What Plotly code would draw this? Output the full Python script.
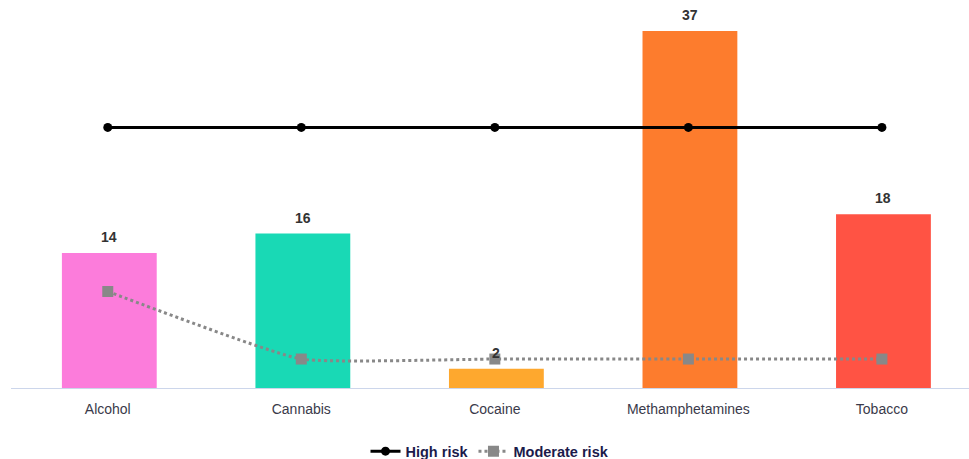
import plotly.graph_objects as go

categories = ["Alcohol", "Cannabis", "Cocaine", "Methamphetamines", "Tobacco"]
bar_values = [14, 16, 2, 37, 18]
bar_colors = ["#FC7CDB", "#19D9B5", "#FEA82E", "#FD7C2D", "#FF5344"]
high_risk = [27, 27, 27, 27, 27]
moderate_risk = [10, 3, 3, 3, 3]

font_family = "Liberation Sans, Arial, sans-serif"

fig = go.Figure()
fig.add_trace(go.Bar(
    x=categories, y=bar_values,
    marker=dict(color=bar_colors, line=dict(width=0)),
    width=0.49, offset=-0.237,
    showlegend=False, hoverinfo="skip",
))
fig.add_trace(go.Scatter(
    x=categories, y=high_risk, name="High risk", mode="lines+markers",
    line=dict(color="#000000", width=3),
    marker=dict(symbol="circle", size=9, color="#000000"),
))
fig.add_trace(go.Scatter(
    x=categories, y=moderate_risk, name="Moderate risk", mode="lines+markers",
    line=dict(color="#888888", width=3, dash="dot", shape="spline", smoothing=0.4),
    marker=dict(symbol="square", size=11, color="#888888"),
))

annotations = [
    dict(x=c, y=v, text=f"<b>{v}</b>", showarrow=False, yanchor="bottom",
         xshift=1.5, yshift=6,
         font=dict(family=font_family, size=14, color="#333333"))
    for c, v in zip(categories, bar_values)
]

fig.update_layout(
    width=969, height=459,
    margin=dict(l=11, r=0, t=0, b=71, autoexpand=False),
    paper_bgcolor="white", plot_bgcolor="white",
    font=dict(family=font_family, size=14, color="#333333"),
    annotations=annotations,
    xaxis=dict(
        type="category", range=[-0.5, 4.45],
        showline=True, linecolor="#CCD6EB", linewidth=1,
        showgrid=False, ticks="", zeroline=False,
        automargin=False,
        ticklabelstandoff=8,
        tickfont=dict(family=font_family, size=14, color="#3a3a4a"),
    ),
    yaxis=dict(
        range=[0, 40.2], showgrid=False, zeroline=False,
        showticklabels=False, showline=False, automargin=False,
    ),
    legend=dict(
        orientation="h", x=0.5, xanchor="center", y=-0.163, yanchor="middle",
        font=dict(family=font_family, size=14.5, color="#1b1b4b", weight="bold"),
        itemwidth=30,
    ),
)

fig.write_html("out.html")
